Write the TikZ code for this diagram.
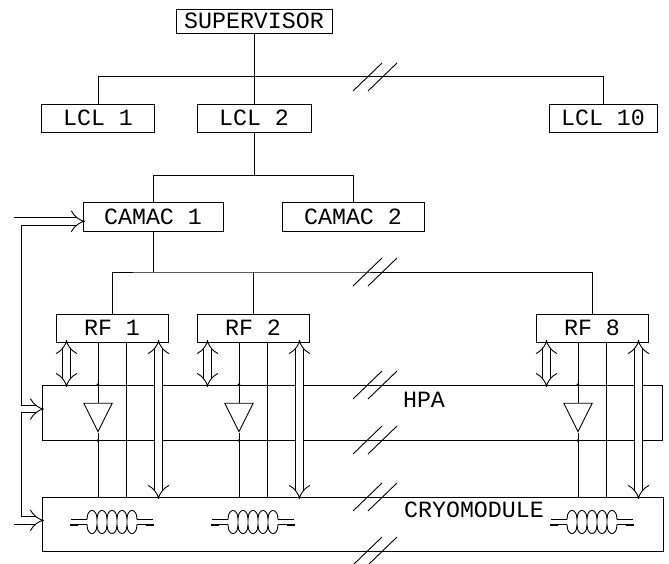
\documentclass[tikz,border=0pt]{standalone}
\usepackage{fontspec}
\newfontfamily\plotfont{Liberation Mono}
\usetikzlibrary{arrows.meta,shapes.geometric}

% two slashes across a line: the line is broken off
\newcommand{\brkmark}[1]{\draw (#1) ++(-22,14) -- ++(29,-28) (#1) ++(-7,14) -- ++(29,-28);}

\begin{document}
\begin{tikzpicture}
  [x=1pt,y=-1pt,line width=0.9pt,
   every node/.style={font={\plotfont\fontsize{23.3pt}{26pt}\selectfont}},
   box/.style={draw,inner sep=0pt,minimum height=28pt},
   amp/.style={draw,isosceles triangle,shape border rotate=-90,
     isosceles triangle stretches,minimum width=28.5pt,minimum height=28.5pt,inner sep=0pt},
   dbl/.style={double,double distance=6.8pt,line width=0.9pt},
   dblarr/.style={dbl,Implies-Implies,shorten <=-2.5pt,shorten >=-2.5pt}]
  \useasboundingbox (0,0) rectangle (669,563);

  \node[box,minimum width=156pt,minimum height=24pt] (sup) at (254,21) {SUPERVISOR};
  \node[box,minimum width=113pt] (lcl1) at (98,118) {LCL 1};
  \node[box,minimum width=114pt] (lcl2) at (254,118) {LCL 2};
  \node[box,minimum width=108pt] (lcl10) at (603,118) {LCL 10};

  \draw (sup) -- (lcl2);
  \draw (lcl1.north) -- ++(0,-27) -| (lcl10.north);

  \node[box,minimum width=140pt,minimum height=29pt] (cam1) at (153,216.5) {CAMAC 1};
  \node[box,minimum width=142pt,minimum height=29pt] (cam2) at (353,216.5) {CAMAC 2};

  \draw (lcl2.south) -- ++(0,43) coordinate (cb);
  \draw (cam1.north) |- (cb) -| (cam2.north);

  \node[box,minimum width=620pt,minimum height=55pt] (hpa) at (352,412.5) {};
  \node[box,minimum width=621pt,minimum height=54pt] (cryo) at (352.5,524) {};
  \node (hpal) at (424,400) {HPA};
  \node (cryl) at (474,510) {CRYOMODULE};

  \foreach \n/\c in {1/112,2/253,8/592} {
    \node[box,minimum width=112pt] (rf\n) at (\c,328) {RF \n};
    \node[amp] (a\n) at (\c-14,412) {};
    \draw (a\n.90 |- rf\n.south) -- (a\n.90);
    \draw (a\n.-90) -- (a\n.-90 |- cryo.north);
    \fill (a\n.90 |- hpa.north) circle (1.4pt) (a\n.-90 |- hpa.south) circle (1.4pt);
    \draw ([xshift=14.5pt]rf\n.south) -- ([xshift=14.5pt]rf\n.south |- cryo.north);
    \draw[dblarr] ([xshift=-45.5pt]rf\n.south) -- ([xshift=-45.5pt]rf\n.south |- hpa.north);
    \draw[dblarr] ([xshift=46.5pt]rf\n.south) -- ([xshift=46.5pt]rf\n.south |- cryo.north);
    % cavity
    \begin{scope}[shift={(\c,522)}]
      \draw plot[domain=0:50,samples=101] ({\x-25},{-2.5-9*abs(sin(18*\x))^0.4});
      \draw plot[domain=0:50,samples=101] ({\x-25},{2.5+9*abs(sin(18*\x))^0.4});
      \draw (-41,-2.5) -- (-25,-2.5) (25,-2.5) -- (41,-2.5) (-41,2.5) -- (-25,2.5) (25,2.5) -- (41,2.5);
      \draw[line width=2.4pt] (-42,3) -- (-34,3) (34,3) -- (42,3);
    \end{scope}
  }

  \coordinate (rb) at (153,272);
  \draw (cam1.south) -- (rb);
  \draw (rf1.north) |- (rb) -| (rf8.north);
  \draw (rf2.north) -- (rf2.north |- rb);

  % feedback to CAMAC 1
  \coordinate (fbt) at (17.8,221.3);
  \coordinate (fbb) at (17.8,520.3);
  \coordinate (fbm) at (21.2,409);
  \draw[dblarr] (cam1.west |- fbt) -- (fbt) -- (fbb) -- (cryo.west |- fbb);
  \draw[dbl,-Implies,shorten >=-2.5pt] (fbm) -- (hpa.west |- fbm);

  \brkmark{375,77}
  \brkmark{375,272}
  \brkmark{375,385}
  \brkmark{375,440}
  \brkmark{375,497}
  \brkmark{375,551}
\end{tikzpicture}
\end{document}
